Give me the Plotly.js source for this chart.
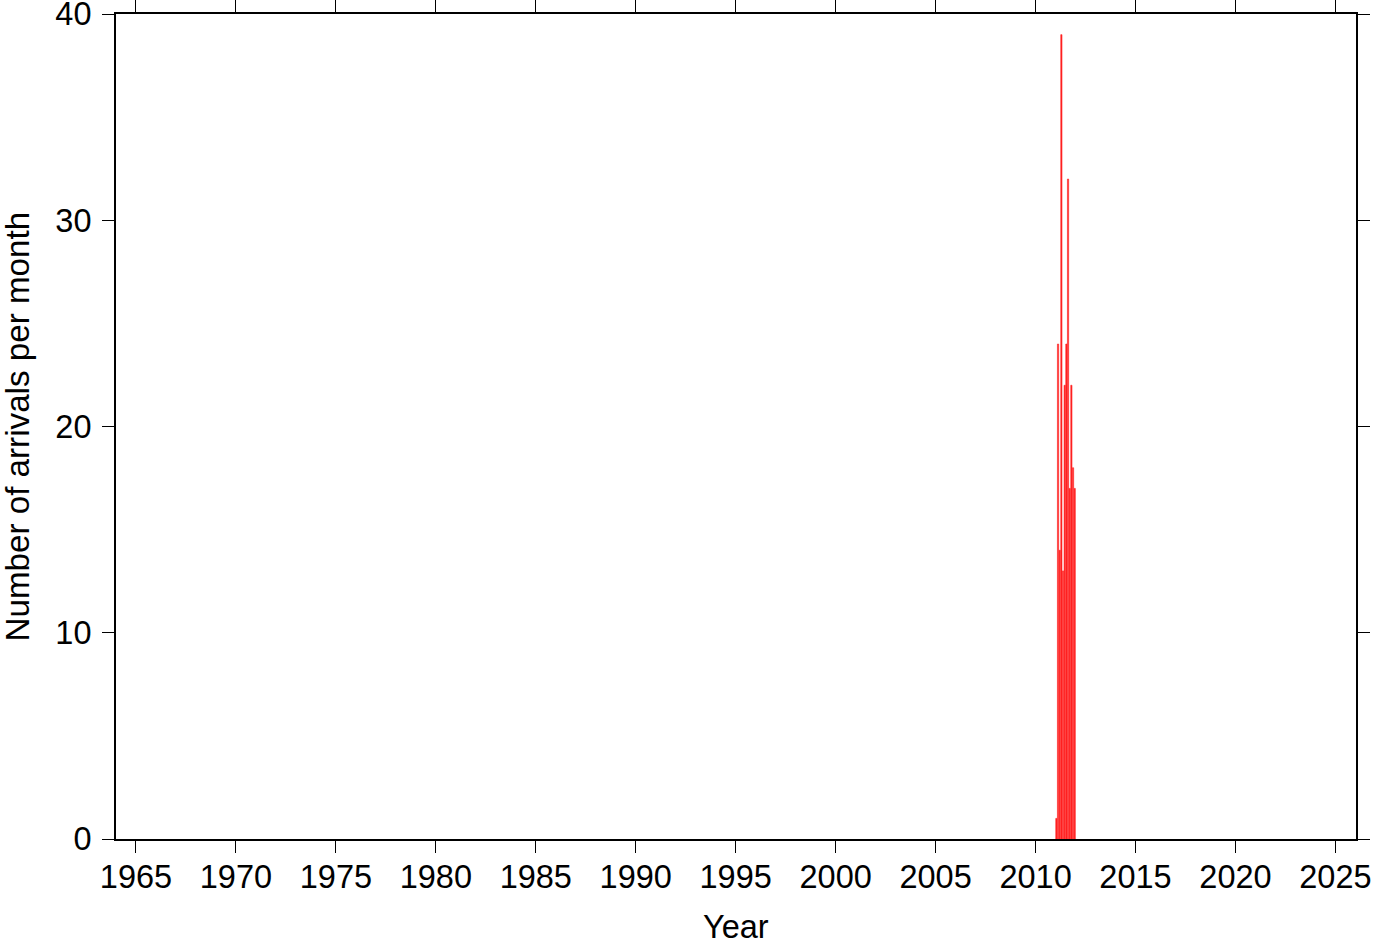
<!DOCTYPE html>
<html>
<head>
<meta charset="utf-8">
<script src="https://cdn.plot.ly/plotly-3.0.1.min.js"></script>
<style>html,body{margin:0;padding:0;background:#fff;}#chart{width:1382px;height:942px;}</style>
</head>
<body>
<div id="chart"></div>
<script>
// Monthly arrival counts for 2011 (Jan..Dec)
const year = 2011;
const months = [1,2,3,4,5,6,7,8,9,10,11,12];
const arrivals = [1,24,14,39,13,22,24,32,17,22,18,17];
const xTickVals = [1965,1970,1975,1980,1985,1990,1995,2000,2005,2010,2015,2020,2025];
const yTickVals = [0,10,20,30,40];
const xTitle = 'Year';
const yTitle = 'Number of arrivals per month';

const xs = months.map(m => year + (m - 0.5) / 12);

const font = {family: 'Liberation Sans, Arial, Helvetica, sans-serif', size: 32.5, color: '#000'};

const trace = {
  type: 'bar',
  x: xs,
  y: arrivals,
  width: 0.75 / 12,
  marker: {color: '#ff1a1a', line: {width: 0.6, color: '#ff2a2a'}},
  hoverinfo: 'skip'
};

const layout = {
  width: 1382, height: 942,
  margin: {l: 116, r: 26, t: 14, b: 103, pad: 0},
  paper_bgcolor: '#fff', plot_bgcolor: '#fff',
  showlegend: false,
  bargap: 0,
  font: font,
  xaxis: {
    range: [1964, 2026.03],
    tickvals: xTickVals,
    ticktext: xTickVals.map(String),
    ticks: 'outside', ticklen: 12, tickwidth: 1, tickcolor: '#000',
    showline: true, linewidth: 2, linecolor: '#000', mirror: 'allticks',
    showgrid: false, zeroline: false,
    tickfont: font,
    ticklabeloverflow: 'allow',
    ticklabelstandoff: -4,
    automargin: false
  },
  yaxis: {
    range: [0, 40],
    tickvals: yTickVals,
    ticktext: yTickVals.map(String),
    ticks: 'outside', ticklen: 12, tickwidth: 1, tickcolor: '#000',
    showline: true, linewidth: 2, linecolor: '#000', mirror: 'allticks',
    showgrid: false, zeroline: false,
    tickfont: font,
    ticklabeloverflow: 'allow',
    ticklabelstandoff: 4,
    automargin: false
  },
  annotations: [
    {text: xTitle, xref: 'paper', yref: 'paper', x: 0.5, y: -0.1067,
     xanchor: 'center', yanchor: 'middle', showarrow: false, font: font},
    {text: yTitle, xref: 'paper', yref: 'paper', x: -0.0798, y: 0.5,
     xanchor: 'center', yanchor: 'middle', textangle: -90, showarrow: false,
     font: Object.assign({}, font, {size: 33.2})}
  ]
};

Plotly.newPlot('chart', [trace], layout, {staticPlot: true, displayModeBar: false});
</script>
</body>
</html>
